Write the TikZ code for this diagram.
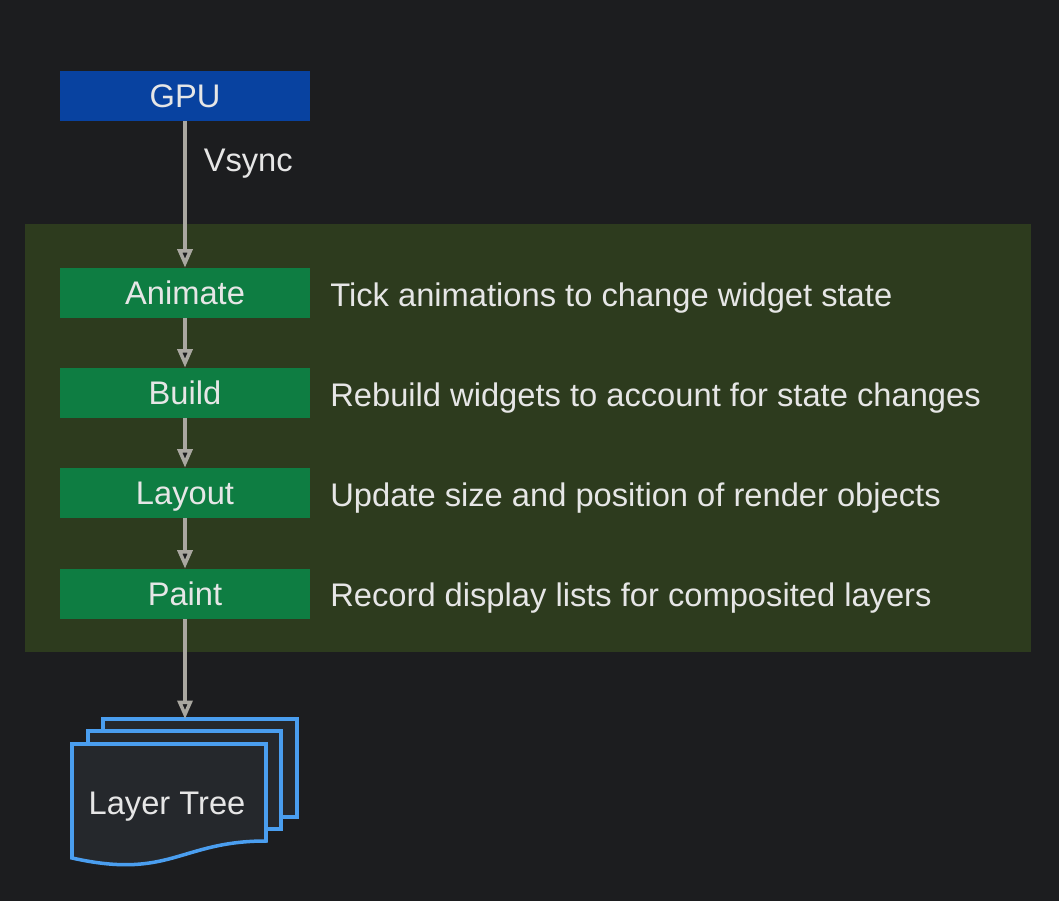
\documentclass[tikz,border=0pt]{standalone}
\usepackage{fontspec}
\setmainfont{Liberation Sans}
\usetikzlibrary{arrows.meta}

\definecolor{pagebg}{HTML}{1C1D1F}
\definecolor{groupgreen}{HTML}{2D3B1E}
\definecolor{gpublue}{HTML}{0842A0}
\definecolor{stagegreen}{HTML}{0E7D42}
\definecolor{flowgrey}{HTML}{A9A7A0}
\definecolor{labeltext}{HTML}{E6E6E6}
\definecolor{sheetfill}{HTML}{25282C}
\definecolor{sheetblue}{HTML}{4A9EEF}

\tikzset{
	stage/.style={rectangle, fill=stagegreen, minimum width=5cm, minimum height=1cm, inner sep=0pt, text=labeltext, text height=13.3pt, text depth=0pt},
	gpubox/.style={stage, fill=gpublue},
	note/.style={anchor=west, inner sep=0pt, text=labeltext, text height=13.3pt, text depth=0pt},
	flow/.style={draw=flowgrey, line width=2pt, -{Triangle[length=10.5pt,width=8.5pt,fill=pagebg]}},
	sheet/.style={draw=sheetblue, line width=2pt, fill=sheetfill},
}

\begin{document}
\begin{tikzpicture}[x=0.02cm, y=-0.02cm, font=\fontsize{18.6}{22}\selectfont]
	\useasboundingbox[fill=pagebg] (0,0) rectangle (1059,901);
	\fill[groupgreen] (25,224) rectangle (1031,652);

	\node[gpubox] (gpu)     at (185,96)  {GPU};
	\node[stage]  (animate) at (185,293) {Animate};
	\node[stage]  (build)   at (185,393) {Build};
	\node[stage]  (layout)  at (185,493) {Layout};
	\node[stage]  (paint)   at (185,594) {Paint};

	\node[note] (animatenote) at (330,295) {Tick animations to change widget state};
	\node[note] (buildnote)   at (330,395) {Rebuild widgets to account for state changes};
	\node[note] (layoutnote)  at (330,495) {Update size and position of render objects};
	\node[note] (paintnote)   at (330,595) {Record display lists for composited layers};

	% layer tree pages
	\draw[sheet] (103,719) rectangle (297,817);
	\draw[sheet] (88,731) rectangle (281,829);
	\draw[sheet] (72,744) -- (266,744) -- (266,841)
		.. controls (180,841) and (170,880) .. (72,858) -- cycle;
	\coordinate (treetop) at (185,719);
	\node[note, anchor=center] (layertree) at (167,803) {Layer Tree};

	\path[flow] (gpu) -- node[note, pos=0.26, xshift=0.34cm] (vsync) {Vsync} (animate);
	\path[flow] (animate) -- (build);
	\path[flow] (build) -- (layout);
	\path[flow] (layout) -- (paint);
	\path[flow] (paint) -- (treetop);
\end{tikzpicture}
\end{document}
